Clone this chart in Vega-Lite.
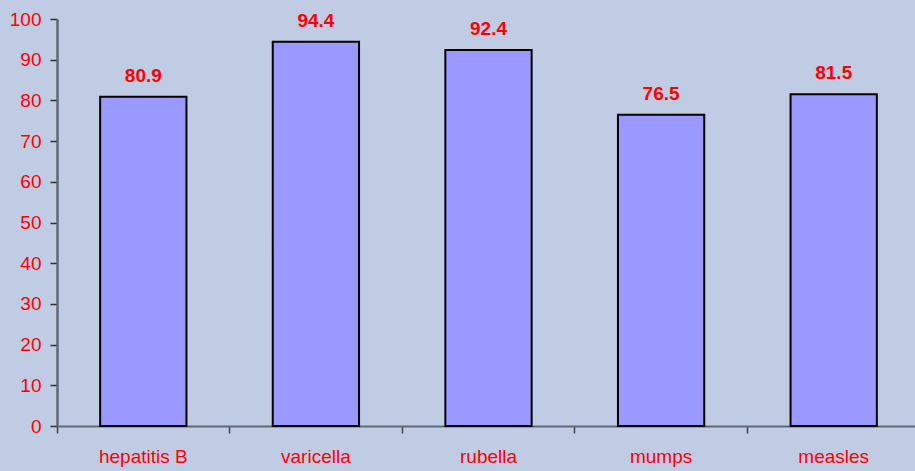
{
  "$schema": "https://vega.github.io/schema/vega-lite/v6.json",
  "autosize": {"type": "none"},
  "padding": {"left": 57, "top": 19, "right": 0, "bottom": 45},
  "width": 863,
  "height": 407,
  "background": "#C0CBE4",
  "config": {
    "view": {"stroke": null},
    "font": "Liberation Sans"
  },
  "data": {
    "values": [
      {"vaccine": "hepatitis B", "value": 80.9},
      {"vaccine": "varicella", "value": 94.4},
      {"vaccine": "rubella", "value": 92.4},
      {"vaccine": "mumps", "value": 76.5},
      {"vaccine": "measles", "value": 81.5}
    ]
  },
  "encoding": {
    "x": {
      "field": "vaccine",
      "type": "nominal",
      "sort": null,
      "scale": {"paddingInner": 0, "paddingOuter": 0},
      "axis": {
        "title": null,
        "labelAngle": 0,
        "bandPosition": 0,
        "labelFont": "Liberation Sans",
        "labelFontSize": 19,
        "labelColor": "#FF0000",
        "labelPadding": 14,
        "tickSize": 7,
        "tickColor": "#404040",
        "domainColor": "#606878",
        "domainWidth": 2,
        "tickWidth": 1.5
      }
    },
    "y": {
      "field": "value",
      "type": "quantitative",
      "scale": {"domain": [0, 100], "nice": false},
      "axis": {
        "title": null,
        "values": [0, 10, 20, 30, 40, 50, 60, 70, 80, 90, 100],
        "labelOverlap": false,
        "labelFlush": false,
        "grid": false,
        "labelFont": "Liberation Sans",
        "labelFontSize": 19,
        "labelColor": "#FF0000",
        "labelPadding": 9,
        "tickSize": 7,
        "tickColor": "#303030",
        "tickWidth": 1.5,
        "domainColor": "#606878",
        "domainWidth": 2.5
      }
    }
  },
  "layer": [
    {
      "mark": {
        "type": "bar",
        "width": {"band": 0.5},
        "fill": "#9999FF",
        "stroke": "#000000",
        "strokeWidth": 2
      }
    },
    {
      "mark": {
        "type": "text",
        "baseline": "alphabetic",
        "dy": -15,
        "fontWeight": "bold",
        "fontSize": 19,
        "color": "#FF0000",
        "font": "Liberation Sans"
      },
      "encoding": {
        "text": {"field": "value", "type": "quantitative", "format": ".1f"}
      }
    }
  ]
}
